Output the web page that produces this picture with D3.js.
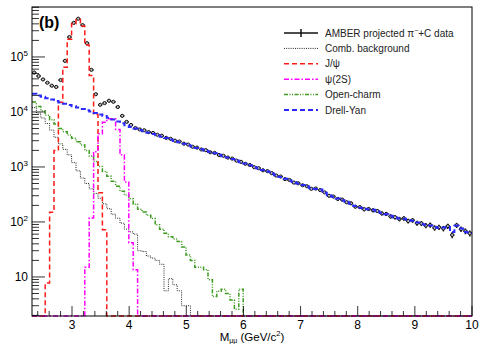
<!DOCTYPE html>
<html>
<head>
<meta charset="utf-8">
<script src="https://cdn.jsdelivr.net/npm/d3@7/dist/d3.min.js"></script>
<style>
    body { margin: 0; background: #fff; }
    svg { font-family: "Liberation Sans", Arial, Helvetica, sans-serif; }
</style>
</head>
<body>
<div id="chart"></div>
<script>
// binning of all histograms: 100 bins from 2.3 to 10 GeV/c^2
const massLo = 2.3, massHi = 10, nBins = 100;

const dataCounts = [
    52000, 45000, 39000, 34000, 30000, 28500, 38000, 85000, 230000, 417000,
    496000, 380000, 178000, 58300, 21000, 13500, 14500, 16000, 15300, 12300,
    8500, 6600, 5800, 5100, 4800, 4650, 4300, 4150, 3850, 3700,
    3380, 3250, 3000, 2900, 2650, 2550, 2330, 2250, 2080, 2020,
    1850, 1800, 1650, 1600, 1480, 1420, 1300, 1240, 1140, 1085,
    990, 950, 870, 840, 770, 700, 670, 600, 580, 520,
    505, 465, 445, 400, 405, 380, 345, 300, 290, 262,
    255, 228, 218, 190, 186, 170, 172, 163, 158, 143,
    140, 126, 122, 113, 116, 104, 107, 95, 94, 86,
    88, 78, 80, 76, 84, 58, 87, 74, 68, 62
];

const drellYan = [
    21400, 19950, 18900, 17800, 16800, 15850, 14900, 14100, 13400, 12650,
    12000, 11350, 10750, 10200, 9600, 9000, 8410, 7850, 7260, 6710,
    6210, 5740, 5310, 4980, 4710, 4450, 4210, 3980, 3770, 3560,
    3360, 3160, 2980, 2810, 2640, 2490, 2350, 2210, 2090, 1980,
    1870, 1770, 1670, 1570, 1490, 1400, 1310, 1220, 1150, 1070,
    1000, 940, 880, 830, 760, 710, 660, 610, 570, 530,
    500, 470, 440, 410, 398, 389, 339, 307, 286, 266,
    249, 233, 214, 195, 182, 174, 170, 166, 155, 146,
    138, 129, 120, 115, 114, 108, 105, 98, 92, 89,
    86, 81, 78, 79, 81, 66, 85, 76, 66, 63
];

// bins after the last listed one are empty
const openCharm = [
    15100, 12600, 10500, 8710, 7240, 6030, 5010, 4365, 3800, 3310,
    2880, 2510, 2000, 1580, 1260, 1020, 830, 676, 550, 447,
    363, 309, 263, 209, 170, 151, 132, 115, 89, 74,
    62, 54, 49, 44, 35, 25, 20, 15, 15, 13.5,
    8.9, 4.4, 5.5, 6.0, 5.0, 3.8, 2.6, 6.0
];

const combBkg = [
    12000, 9550, 7760, 6170, 4680, 3470, 2630, 2090, 1660, 1200,
    850, 630, 500, 400, 330, 270, 214, 174, 138, 117,
    95, 74, 66, 60, 30, 29, 24, 22, 20, 17,
    5.6, 9.3, 7.2, 5.6, 3.0, 3.0
];

const jpsi = [
    0, 0, 0, 7.8, 150, 2000, 15000, 65000, 210000, 400000,
    480000, 365000, 165000, 46000, 9000, 340, 72
];

const psi2S = [
    0, 0, 0, 0, 0, 0, 0, 0, 0, 0,
    0, 0, 15, 118, 1900, 4000, 6500, 7500, 7500, 4800,
    1660, 530, 42, 13.5
];

const xMajorTicks = [3, 4, 5, 6, 7, 8, 9, 10];
const yMajorTicks = [10, 100, 1000, 10000, 100000];

const legendItems = [
    { label: "AMBER projected π", sup: "−", after: "+C data", type: "data" },
    { label: "Comb. background", color: "#222", dash: "1,1.2", width: 1 },
    { label: "J/ψ", color: "#ff1a1a", dash: "5,3", width: 1.5 },
    { label: "ψ(2S)", color: "#ff00ff", dash: "5,2,1.5,2", width: 1.5 },
    { label: "Open-charm", color: "#3d9b1f", dash: "4,1.5,1,1.5,1,1.5", width: 1.5 },
    { label: "Drell-Yan", color: "#2a2aff", dash: "5,3", width: 2 }
];

class SpectrumVis {
    constructor(parentElement) {
        this.parentElement = parentElement;
        this.initVis();
    }

    initVis() {
        let vis = this;

        vis.margin = { top: 7, right: 7, bottom: 28, left: 32 };
        vis.width = 479 - vis.margin.left - vis.margin.right;
        vis.height = 344 - vis.margin.top - vis.margin.bottom;

        vis.svgRoot = d3.select("#" + vis.parentElement).append("svg")
            .attr("width", 479)
            .attr("height", 344);

        vis.svg = vis.svgRoot.append("g")
            .attr("transform", `translate(${vis.margin.left},${vis.margin.top})`);

        vis.yMin = 1.95;
        vis.x = d3.scaleLinear().domain([massLo, massHi]).range([0, vis.width]);
        vis.y = d3.scaleLog().domain([vis.yMin, 8.1e5]).range([vis.height, 0]);

        vis.binWidth = (massHi - massLo) / nBins;
        vis.edges = d3.range(nBins + 1).map(i => massLo + i * vis.binWidth);

        vis.svg.append("clipPath").attr("id", "plot-clip")
            .append("rect")
            .attr("x", 0).attr("y", -1)
            .attr("width", vis.width).attr("height", vis.height + 2);

        vis.plot = vis.svg.append("g").attr("clip-path", "url(#plot-clip)");

        vis.drawAxes();
        vis.drawData();

        let styles = {};
        legendItems.forEach(d => styles[d.label] = d);
        vis.drawHist(combBkg, styles["Comb. background"]);
        vis.drawHist(openCharm, styles["Open-charm"]);
        vis.drawHist(jpsi, styles["J/ψ"]);
        vis.drawHist(psi2S, styles["ψ(2S)"]);
        vis.drawHist(drellYan, styles["Drell-Yan"]);

        vis.svg.append("rect")
            .attr("width", vis.width)
            .attr("height", vis.height)
            .attr("fill", "none")
            .attr("stroke", "#000")
            .attr("stroke-width", 1);

        vis.drawLegend();

        vis.svgRoot.append("text")
            .attr("x", 39)
            .attr("y", 28)
            .attr("font-size", 16)
            .attr("font-weight", "bold")
            .text("(b)");
    }

    drawAxes() {
        let vis = this;

        // x ticks point inward, minor every 0.2
        let xMinor = d3.range(2.4, 10.001, 0.2).filter(t => !xMajorTicks.some(m => Math.abs(m - t) < 1e-6));
        vis.svg.selectAll(".x-minor").data(xMinor).enter().append("line")
            .attr("x1", d => vis.x(d)).attr("x2", d => vis.x(d))
            .attr("y1", vis.height).attr("y2", vis.height - 5)
            .attr("stroke", "#000").attr("stroke-width", 0.8);

        vis.svg.selectAll(".x-major").data(xMajorTicks).enter().append("line")
            .attr("x1", d => vis.x(d)).attr("x2", d => vis.x(d))
            .attr("y1", vis.height).attr("y2", vis.height - 10)
            .attr("stroke", "#000").attr("stroke-width", 0.8);

        vis.svg.selectAll(".x-label").data(xMajorTicks).enter().append("text")
            .attr("x", d => vis.x(d))
            .attr("y", vis.height + 13)
            .attr("text-anchor", "middle")
            .attr("font-size", 12)
            .text(d => d);

        let title = vis.svg.append("text")
            .attr("x", vis.width / 2)
            .attr("y", vis.height + 24.5)
            .attr("text-anchor", "middle")
            .attr("font-size", 11.5);
        title.append("tspan").text("M");
        title.append("tspan").attr("font-size", 7).attr("dy", 2).text("μμ");
        title.append("tspan").attr("dy", -2).text(" (GeV/c");
        title.append("tspan").attr("font-size", 7.5).attr("dy", -4.5).text("2");
        title.append("tspan").attr("dy", 4.5).text(")");

        // y log ticks
        let yMinor = vis.y.ticks().filter(t => !yMajorTicks.includes(t));
        vis.svg.selectAll(".y-minor").data(yMinor).enter().append("line")
            .attr("x1", 0).attr("x2", 7)
            .attr("y1", d => vis.y(d)).attr("y2", d => vis.y(d))
            .attr("stroke", "#000").attr("stroke-width", 0.8);

        vis.svg.selectAll(".y-major").data(yMajorTicks).enter().append("line")
            .attr("x1", 0).attr("x2", 13)
            .attr("y1", d => vis.y(d)).attr("y2", d => vis.y(d))
            .attr("stroke", "#000").attr("stroke-width", 0.8);

        let labels = vis.svg.selectAll(".y-label").data(yMajorTicks).enter().append("text")
            .attr("x", -4)
            .attr("y", d => vis.y(d) + 4)
            .attr("text-anchor", "end")
            .attr("font-size", 12);
        labels.append("tspan").text("10");
        labels.filter(d => d > 10).append("tspan")
            .attr("font-size", 8)
            .attr("dy", -5)
            .text(d => Math.round(Math.log10(d)));
    }

    stepPath(values) {
        let vis = this;
        let pts = [];
        for (let i = 0; i < nBins; i++) {
            let v = values[i] || 0;
            let yv = vis.y(Math.max(v, vis.yMin));
            pts.push([vis.x(vis.edges[i]), yv], [vis.x(vis.edges[i + 1]), yv]);
        }
        return d3.line()(pts);
    }

    drawHist(values, style) {
        let vis = this;
        vis.plot.append("path")
            .attr("d", vis.stepPath(values))
            .attr("fill", "none")
            .attr("stroke", style.color)
            .attr("stroke-width", style.width)
            .attr("stroke-dasharray", style.dash);
    }

    drawData() {
        let vis = this;
        let pts = dataCounts.map((v, i) => ({ i: i, v: v }));

        let g = vis.plot.selectAll(".data-point").data(pts).enter().append("g")
            .attr("class", "data-point");

        g.append("line")
            .attr("x1", d => vis.x(vis.edges[d.i]))
            .attr("x2", d => vis.x(vis.edges[d.i + 1]))
            .attr("y1", d => vis.y(d.v)).attr("y2", d => vis.y(d.v))
            .attr("stroke", "#111").attr("stroke-width", 1.3);

        g.append("line")
            .attr("x1", d => vis.x(vis.edges[d.i] + vis.binWidth / 2))
            .attr("x2", d => vis.x(vis.edges[d.i] + vis.binWidth / 2))
            .attr("y1", d => vis.y(d.v + Math.sqrt(d.v)))
            .attr("y2", d => vis.y(d.v - Math.sqrt(d.v)))
            .attr("stroke", "#111").attr("stroke-width", 1.5);

        g.append("circle")
            .attr("cx", d => vis.x(vis.edges[d.i] + vis.binWidth / 2))
            .attr("cy", d => vis.y(d.v))
            .attr("r", 1.6)
            .attr("fill", "#bbb")
            .attr("stroke", "#111")
            .attr("stroke-width", 1);
    }

    drawLegend() {
        let vis = this;
        let x0 = 284, x1 = 318, top = 33, step = 15.4;

        let rows = vis.svgRoot.selectAll(".legend-row").data(legendItems).enter().append("g")
            .attr("class", "legend-row")
            .attr("transform", (d, i) => `translate(0, ${top + i * step})`);

        rows.filter(d => d.type !== "data").append("line")
            .attr("x1", x0).attr("x2", x1)
            .attr("stroke", d => d.color)
            .attr("stroke-width", d => d.width)
            .attr("stroke-dasharray", d => d.dash);

        let dataRow = rows.filter(d => d.type === "data");
        dataRow.append("line")
            .attr("x1", x0).attr("x2", x1)
            .attr("stroke", "#111").attr("stroke-width", 1.3);
        dataRow.append("line")
            .attr("x1", (x0 + x1) / 2).attr("x2", (x0 + x1) / 2)
            .attr("y1", -4).attr("y2", 4)
            .attr("stroke", "#111").attr("stroke-width", 1.5);

        let texts = rows.append("text")
            .attr("x", 325)
            .attr("y", 3.5)
            .attr("font-size", 10)
            .attr("fill", "#222");
        texts.append("tspan").text(d => d.label);
        texts.filter(d => d.sup).append("tspan")
            .attr("font-size", 7)
            .attr("dy", -4)
            .text(d => d.sup);
        texts.filter(d => d.after).append("tspan")
            .attr("dy", 4)
            .text(d => d.after);
    }
}

new SpectrumVis("chart");
</script>
</body>
</html>
